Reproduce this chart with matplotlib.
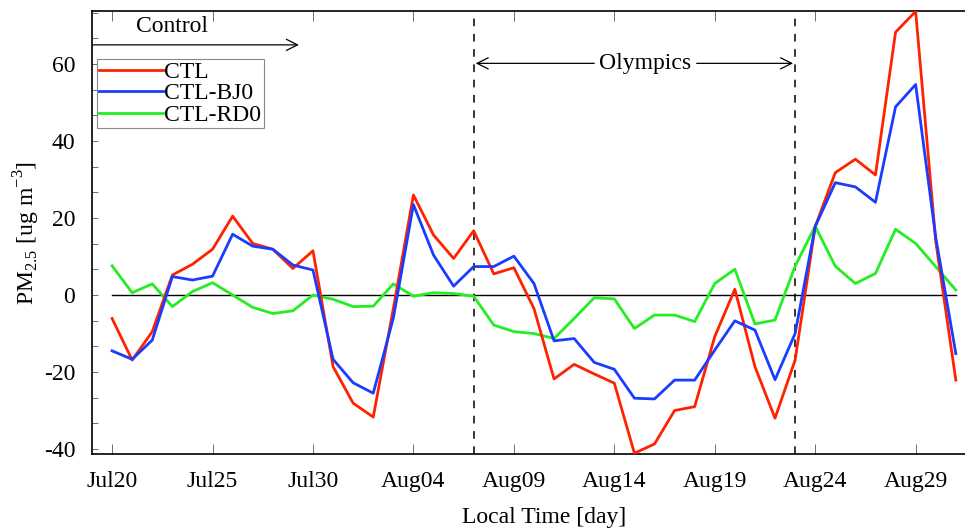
import numpy as np
import matplotlib
matplotlib.use("Agg")
import matplotlib.pyplot as plt
from matplotlib.ticker import MultipleLocator

plt.rcParams['font.family'] = ['Liberation Serif', 'DejaVu Serif']
plt.rcParams['mathtext.fontset'] = 'custom'
plt.rcParams['mathtext.rm'] = 'Liberation Serif'
plt.rcParams['axes.unicode_minus'] = False

# -------------------------
# Datos (un valor por día, desde Jul20)
# -------------------------
dias = np.arange(43)

ctl = [-6.1, -16.9, -9.5, 5.2, 8.0, 11.9, 20.5, 13.4, 11.9, 6.9,
       11.5, -18.6, -28.1, -31.7, -3.5, 26.0, 15.6, 9.5, 16.7, 5.5,
       7.1, -3.5, -21.8, -18.0, -20.5, -22.9, -41.1, -38.7, -30.0, -29.0,
       -10.8, 1.5, -18.6, -32.0, -16.9, 17.8, 31.8, 35.3, 31.2, 68.3,
       73.7, 14.0, -22.1]

ctl_bj0 = [-14.5, -16.7, -11.7, 4.8, 3.9, 4.9, 15.8, 12.7, 11.9, 7.8,
           6.5, -16.7, -22.8, -25.5, -6.0, 23.5, 10.4, 2.3, 7.4, 7.4,
           10.1, 3.0, -11.9, -11.3, -17.5, -19.3, -26.8, -27.0, -22.1, -22.1,
           -14.3, -6.7, -9.1, -22.0, -10.0, 17.8, 29.2, 28.1, 24.1, 48.9,
           54.7, 15.0, -15.2]

ctl_rd0 = [7.6, 0.6, 2.9, -3.0, 0.9, 3.2, 0.0, -3.2, -4.8, -4.1,
           0.0, -1.1, -3.0, -2.9, 2.9, -0.3, 0.6, 0.4, -0.3, -7.8,
           -9.5, -10.0, -11.3, -6.1, -0.7, -1.0, -8.7, -5.2, -5.2, -6.9,
           3.0, 6.7, -7.5, -6.5, 7.5, 17.9, 7.5, 3.0, 5.6, 17.1,
           13.4, 7.4, 1.3]

ticks_x = [0, 5, 10, 15, 20, 25, 30, 35, 40]
etiquetas_x = ["Jul20", "Jul25", "Jul30", "Aug04", "Aug09",
               "Aug14", "Aug19", "Aug24", "Aug29"]

inicio_olimpicos = 18
fin_olimpicos = 34

# -------------------------
# Figura
# -------------------------
fig = plt.figure(figsize=(9.65, 5.28), dpi=100)
ax = fig.add_axes([92/965, 74/528, 904/965, 443/528])

fs = 17

ax.plot(dias, np.zeros(len(dias)), color="black", lw=1.0, zorder=2)
ax.plot(dias, ctl, color="#ff2200", lw=2.0, label="CTL", zorder=4)
ax.plot(dias, ctl_bj0, color="#1a3cff", lw=2.0, label="CTL-BJ0", zorder=4)
ax.plot(dias, ctl_rd0, color="#22ee22", lw=2.0, label="CTL-RD0", zorder=3)

ax.axvline(inicio_olimpicos, color="black", lw=1.1, ls=(0, (5, 5)), zorder=1)
ax.axvline(fin_olimpicos, color="black", lw=1.1, ls=(0, (5, 5)), zorder=1)

ax.set_xlim(-1, 44)
ax.set_ylim(-41.3, 73.8)

# Flechas y textos
flecha = dict(arrowstyle="->", color="black", lw=0.9, mutation_scale=20,
              shrinkA=0, shrinkB=0)
ax.annotate("", xy=(9.3, 65), xytext=(-1, 65), arrowprops=flecha)
ax.text(3.0, 69.9, "Control", fontsize=fs, ha="center", va="center")
ax.text(26.55, 60.2, "Olympics", fontsize=fs, ha="center", va="center")
ax.annotate("", xy=(18.1, 60.2), xytext=(24.0, 60.2), arrowprops=flecha)
ax.annotate("", xy=(33.9, 60.2), xytext=(29.1, 60.2), arrowprops=flecha)

# Ejes
ax.set_xticks(ticks_x)
ax.set_xticklabels(etiquetas_x)
ax.yaxis.set_major_locator(MultipleLocator(20))
ax.yaxis.set_minor_locator(MultipleLocator(20/3))
ax.tick_params(axis="x", direction="in", length=7, width=0.6, top=True,
               labelsize=fs, pad=12, color="#555555")
ax.tick_params(axis="y", which="both", direction="in", length=4, width=0.6,
               labelsize=fs, pad=12, color="#555555")
for s in ax.spines.values():
    s.set_linewidth(1.2)

ax.set_xlabel("Local Time [day]", fontsize=fs, labelpad=11)
ax.set_ylabel(r"PM$_{\mathregular{2.5}}$ [ug m$^{\mathregular{-3}}$]",
              fontsize=fs, labelpad=1)

leg = ax.legend(loc="upper left", bbox_to_anchor=(5/904, 1 - 48/443),
                fontsize=fs, frameon=True, fancybox=False, framealpha=1,
                edgecolor="#888888", borderpad=0.1, labelspacing=0.0,
                handlelength=2.7, handletextpad=0.05, borderaxespad=0)
leg.get_frame().set_linewidth(0.8)

fig.savefig("out.png", dpi=100)
